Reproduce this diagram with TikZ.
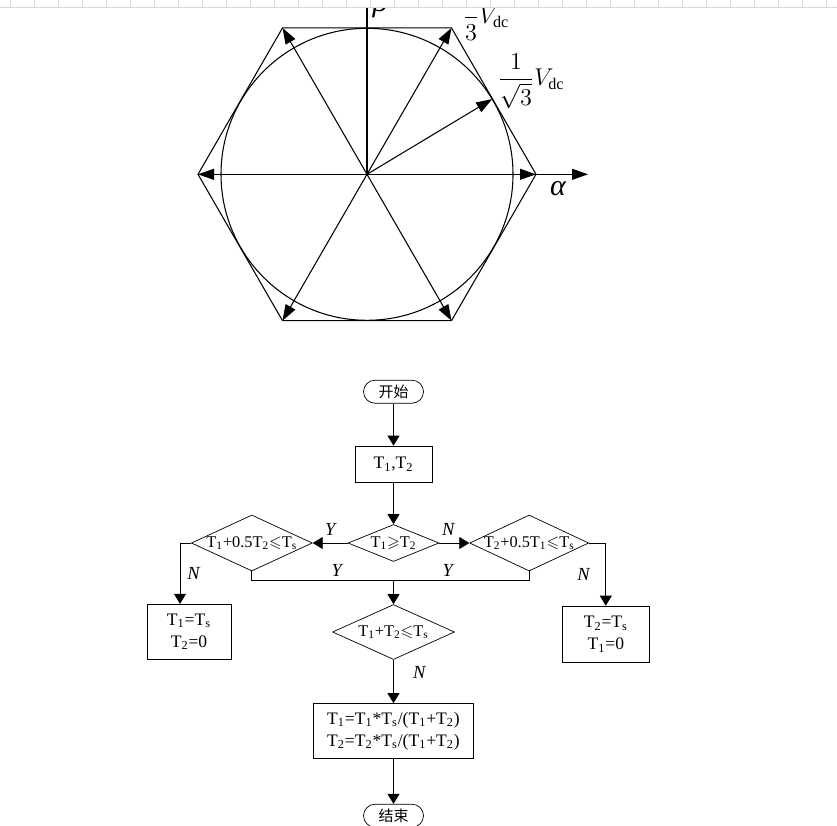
\documentclass[tikz,border=0pt]{standalone}
\usepackage{amsmath,amssymb}
\usepackage{fontspec}
\setmainfont{Liberation Serif}
\newfontfamily\cjk{Noto Sans CJK SC}
\usepackage{xcolor}
\usepackage{tikz}
\usetikzlibrary{positioning,shapes.geometric,arrows.meta}
\pgfdeclarelayer{nodelayer}
\pgfdeclarelayer{edgelayer}
\pgfsetlayers{main,nodelayer,edgelayer}
\definecolor{gridgray}{RGB}{214,214,214}
\tikzstyle{vec}=[-{Triangle[length=3.2mm,width=2.2mm]}, black]
\tikzstyle{flowArr}=[-{Triangle[length=2mm,width=2.4mm]}, black]
\tikzstyle{flowLine}=[-, black]
\tikzstyle{term}=[rectangle, rounded corners=0.23cm, draw=black, minimum width=1.2cm, minimum height=0.46cm, inner sep=0pt, font=\cjk\fontsize{8.5}{10}\selectfont]
\tikzstyle{proc}=[rectangle, draw=black, align=center, inner sep=0pt, font=\fontsize{10}{12.5}\selectfont]
\tikzstyle{decide}=[diamond, draw=black, inner sep=0pt, font=\fontsize{9.3}{11}\selectfont]
\tikzstyle{yn}=[font=\fontsize{10.5}{12}\selectfont\itshape, inner sep=1pt]
\tikzstyle{vlabel}=[font=\fontsize{12}{14}\selectfont, inner sep=0pt, scale=1.15]
\newcommand{\Ta}{T\textsubscript{1}}
\newcommand{\Tb}{T\textsubscript{2}}
\newcommand{\Tsw}{T\textsubscript{s}}
\newcommand{\dtext}[1]{\makebox[0pt]{#1}}

\begin{document}
\begin{tikzpicture}[x=0.02cm, y=-0.02cm, line width=0.6pt]
    \useasboundingbox (0,0) rectangle (837,825);
    \clip (0,0) rectangle (837,825);

    %Space vector hexagon
    \begin{scope}[shift={(367,174.3)}, y=0.02cm]
        \coordinate (O) at (0,0);
        \foreach \a in {0,60,...,300} \coordinate (v\a) at (\a:169);
        \coordinate (alphaEnd) at (221,0);
        \coordinate (betaEnd) at (0,190);
        \coordinate (vref) at (31:146);
        \draw (O) circle[radius=146];
        \draw (v0) -- (v60) -- (v120) -- (v180) -- (v240) -- (v300) -- cycle;
        \draw[style=vec] (v180) -- (alphaEnd);
        \draw (O) -- (betaEnd);
        \foreach \a in {0,60,...,300} \draw[style=vec] (O) -- (v\a);
        \draw[style=vec] (O) -- (vref);
    \end{scope}
    \node[font=\fontsize{17}{18}\selectfont\itshape] (alphaLbl) at (558,189) {α};
    \node[font=\fontsize{17}{18}\selectfont\itshape] (betaLbl) at (380,4) {β};
    \node[style=vlabel] (vmaxLbl) at (486,16) {$\displaystyle\frac{2}{3}V_{\mathrm{dc}}$};
    \node[style=vlabel] (vcirLbl) at (531,81) {$\displaystyle\frac{1}{\sqrt{3}}V_{\mathrm{dc}}$};

    %Sheet grid strip
    \fill[white] (0,0) rectangle (837,7.3);
    \draw[gridgray, line width=0.5pt] (0,7.3) -- (837,7.3);
    \foreach \x in {0,...,34} \draw[gridgray, line width=0.5pt] (10.7+24*\x,0) -- (10.7+24*\x,7.3);

    %Flow chart
    \begin{pgfonlayer}{nodelayer}
        \node[style=term] (start) at (393.5,391.7) {开始};
        \node[style=proc, minimum width=1.54cm, minimum height=0.72cm] (init) at (393.5,464) {\Ta,\Tb};
        \node[style=decide, minimum width=1.82cm, minimum height=0.74cm] (cmp) at (393.5,543) {\dtext{\Ta$\geqslant$\Tb}};
        \node[style=decide, minimum width=2.42cm, minimum height=1.12cm, left=0.7cm of cmp] (chkA) {\dtext{\Ta+0.5\Tb$\leqslant$\Tsw}};
        \node[style=decide, minimum width=2.38cm, minimum height=1.12cm, right=0.6cm of cmp] (chkB) {\dtext{\Tb+0.5\Ta$\leqslant$\Tsw}};
        \node[style=proc, minimum width=1.68cm, minimum height=1.1cm] (satA) at (189,631.7) {\Ta=\Tsw\\\Tb=0};
        \node[style=proc, minimum width=1.74cm, minimum height=1.12cm] (satB) at (605.8,634) {\Tb=\Tsw\\\Ta=0};
        \node[style=decide, minimum width=2.44cm, minimum height=1.1cm] (chkSum) at (393.5,632) {\dtext{\Ta+\Tb$\leqslant$\Tsw}};
        \node[style=proc, minimum width=3.2cm, minimum height=1.1cm] (scale) at (393.5,731) {\Ta=\Ta*\Tsw/(\Ta+\Tb)\\\Tb=\Tb*\Tsw/(\Ta+\Tb)};
        \node[style=term] (stop) at (393.5,815.7) {结束};
    \end{pgfonlayer}
    \begin{pgfonlayer}{edgelayer}
        \coordinate (join) at (393.5,580);
        \draw[style=flowArr] (start) -- (init);
        \draw[style=flowArr] (init) -- (cmp);
        \draw[style=flowArr] (cmp.west) -- node[style=yn, above=3pt] {Y} (chkA.east);
        \draw[style=flowArr] (cmp.east) -- node[style=yn, pos=0.3, above=3pt] {N} (chkB.west);
        \draw[style=flowArr] (chkA.west) -| node[style=yn, pos=0.75, right=3pt] {N} ([xshift=-0.18cm]satA.north);
        \draw[style=flowArr] (chkB.east) -| node[style=yn, pos=0.75, left=8pt] {N} (satB.north);
        \draw[style=flowLine] (chkA.south) |- node[style=yn, pos=0.8, above=1pt] {Y} (join) -| node[style=yn, pos=0.2, above=1pt] {Y} (chkB.south);
        \draw[style=flowArr] (join) -- (chkSum);
        \draw[style=flowArr] (chkSum) -- node[style=yn, pos=0.3, right=10pt] {N} (scale);
        \draw[style=flowArr] (scale) -- (stop);
    \end{pgfonlayer}
\end{tikzpicture}
\end{document}
